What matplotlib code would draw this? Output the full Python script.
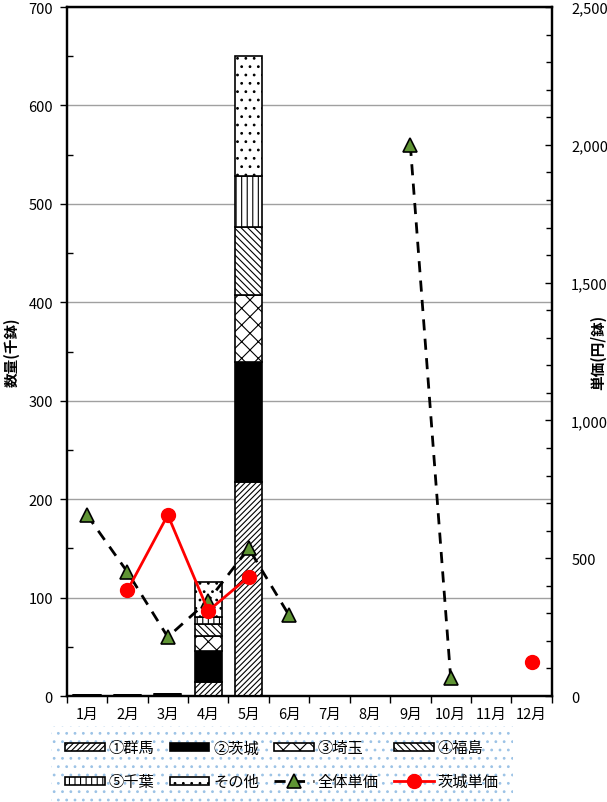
import numpy as np
import matplotlib.pyplot as plt
from matplotlib.ticker import MultipleLocator, FuncFormatter

plt.rcParams['font.family'] = ['Noto Sans CJK JP', 'DejaVu Sans']
plt.rcParams['hatch.linewidth'] = 0.8

months = ['1月', '2月', '3月', '4月', '5月', '6月', '7月', '8月', '9月', '10月', '11月', '12月']

# 数量（千鉢）
gunma   = [0, 0, 0, 14, 217, 0, 0, 0, 0, 0, 0, 0]
ibaraki = [1.5, 1.5, 2.5, 32, 122, 0, 0, 0, 0, 0, 0, 0]
saitama = [0, 0, 0, 15, 68, 0, 0, 0, 0, 0, 0, 0]
fukushima = [0, 0, 0, 12, 70, 0, 0, 0, 0, 0, 0, 0]
chiba   = [0, 0, 0, 7, 51, 0, 0, 0, 0, 0, 0, 0]
other   = [0, 0, 0, 36, 122, 0, 0, 0, 0, 0, 0, 0]

# 単価（円/鉢）
price_all = [657, 450, 214, 346, 536, 293, np.nan, np.nan, 2000, 64, np.nan, np.nan]
price_ibaraki = [np.nan, 383, 657, 309, 432, np.nan, np.nan, np.nan, np.nan, np.nan, np.nan, 123]

series = [
    ('①群馬', gunma, 'white', '//////'),
    ('②茨城', ibaraki, 'black', None),
    ('③埼玉', saitama, 'white', 'xx'),
    ('④福島', fukushima, 'white', '\\\\\\\\\\'),
    ('⑤千葉', chiba, 'white', '|||'),
    ('その他', other, 'white', '..'),
]

fig = plt.figure(figsize=(6.07, 8.03), dpi=100)
ax = fig.add_axes([0.110, 0.132, 0.799, 0.858])
x = np.arange(len(months))

bottom = np.zeros(len(months))
handles = {}
for name, vals, fc, hatch in series:
    vals = np.array(vals, dtype=float)
    b = ax.bar(x, vals, 0.67, bottom=bottom, color=fc, edgecolor='black',
               hatch=hatch, linewidth=1.2, label=name, zorder=3)
    handles[name] = b
    bottom += vals

ax.set_xlim(-0.5, 11.5)
ax.set_ylim(0, 700)
ax.yaxis.set_major_locator(MultipleLocator(100))
ax.yaxis.set_minor_locator(MultipleLocator(50))
ax.grid(axis='y', which='major', color='#a0a0a0', linewidth=1, zorder=0)
ax.set_xticks(x)
ax.set_xticklabels(months, fontsize=10.5)
ax.set_xticks(np.arange(-0.5, 12, 1), minor=True)
ax.tick_params(axis='x', which='major', length=0, pad=8)
ax.tick_params(axis='x', which='minor', length=5, direction='out', width=1)
ax.tick_params(axis='y', which='major', direction='out', length=5, width=1, labelsize=10.5, pad=5)
ax.tick_params(axis='y', which='minor', direction='in', length=4, width=1)
ax.set_ylabel('数量(千鉢)', fontsize=10.5, fontweight='bold')
ax.yaxis.set_label_coords(-0.097, 0.5)
for s in ax.spines.values():
    s.set_linewidth(1.6)

ax2 = ax.twinx()
ax2.set_ylim(0, 2500)
ax2.yaxis.set_major_locator(MultipleLocator(500))
ax2.yaxis.set_minor_locator(MultipleLocator(100))
ax2.yaxis.set_major_formatter(FuncFormatter(lambda v, p: f'{int(v):,}'))
ax2.tick_params(axis='y', which='major', direction='in', length=5, width=1, labelsize=10.5, pad=14)
ax2.tick_params(axis='y', which='minor', direction='in', length=4, width=1)
ax2.set_ylabel('単価(円/鉢)', fontsize=10.5, fontweight='bold', rotation=90)
ax2.yaxis.set_label_coords(1.078, 0.5)
for s in ax2.spines.values():
    s.set_linewidth(1.6)

l1, = ax2.plot(x, price_all, ls=(0, (4, 3)), color='black', lw=2, marker='^',
               markersize=10, markerfacecolor='#5f9434', markeredgecolor='black',
               markeredgewidth=1.2, label='全体単価', zorder=4)
l2, = ax2.plot(x, price_ibaraki, color='#ff0000', lw=2, marker='o',
               markersize=10, markerfacecolor='#ff0000', markeredgecolor='#ff0000',
               label='茨城単価', zorder=5)

order = [handles['①群馬'], handles['⑤千葉'], handles['②茨城'], handles['その他'],
         handles['③埼玉'], l1, handles['④福島'], l2]
labels = ['①群馬', '⑤千葉', '②茨城', 'その他', '③埼玉', '全体単価', '④福島', '茨城単価']
leg = fig.legend(order, labels, loc='lower left', bbox_to_anchor=(0.072, -0.012, 0.785, 0.102),
                 mode='expand', ncol=4, fontsize=11, handlelength=2.6, handleheight=0.45,
                 handletextpad=0.25, borderpad=0.9, labelspacing=1.1, columnspacing=1.2,
                 fancybox=False, framealpha=1)
frame = leg.get_frame()
frame.set_facecolor('white')
frame.set_edgecolor('#9cc3e6')
frame.set_hatch('..')
frame.set_linewidth(0)

fig.savefig('out.png', dpi=100)
